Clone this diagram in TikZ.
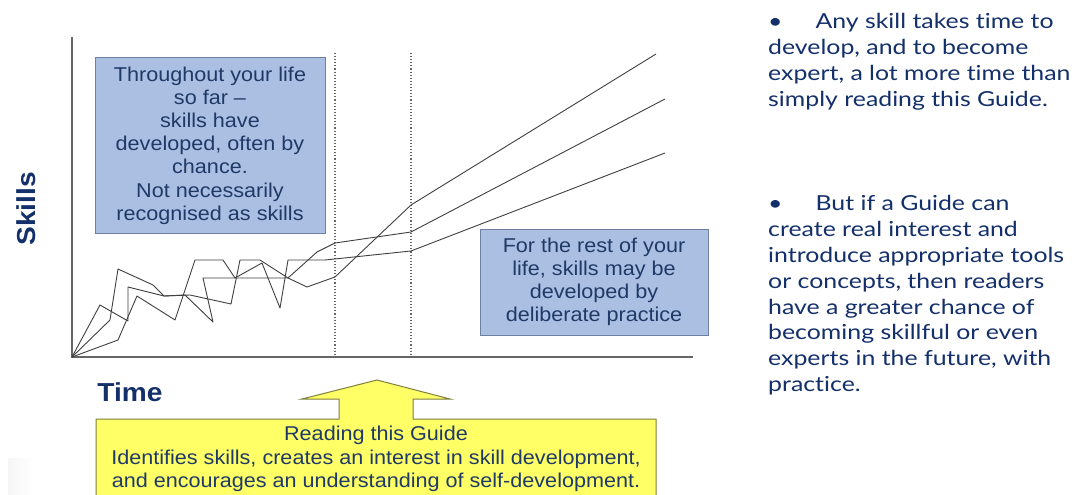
\documentclass[tikz,border=0pt]{standalone}
\usepackage{fontspec}
\setmainfont[FakeStretch=1.08]{Liberation Sans}
\newfontfamily\notefont[FakeStretch=1.2, Ligatures=NoCommon]{Lato}
\definecolor{boxfill}{HTML}{ABBFE3}
\definecolor{boxedge}{HTML}{6F7F9F}
\definecolor{boxtext}{HTML}{1F3A66}
\definecolor{navy}{HTML}{14306B}
\definecolor{guidefill}{HTML}{FFFF66}
\definecolor{guideedge}{HTML}{7F7F3F}
\tikzset{
	lifebox/.style={draw=boxedge, fill=boxfill, line width=1pt, text=boxtext, align=center,
		inner sep=0pt, font=\fontsize{20}{23.2}\selectfont},
	axislabel/.style={text=navy, font=\bfseries\fontsize{26}{30}\selectfont},
	skillline/.style={draw=black!75, line width=0.9pt, line join=round},
	notes/.style={text=navy, align=left, anchor=north west, inner sep=0pt,
		font=\notefont\fontsize{20.7}{25.9}\selectfont}
}
\begin{document}
\begin{tikzpicture}[x=1pt, y=-1pt]
	\useasboundingbox (0,0) rectangle (1085,495);
	\clip (0,0) rectangle (1085,495);
	\fill[white] (0,0) rectangle (1085,495);
	\shade[left color=blue!4!gray!7, right color=white] (8,458) rectangle (34,495);

	%axes
	\coordinate (origin) at (72,357);
	\draw[black!60, line width=1.2pt] (72,37) -- (origin) -- (693,357);
	\node[axislabel, rotate=90] (skills) at (26,209) {Skills};
	\node[axislabel] (time) at (130,392) {Time};

	\foreach \x in {335, 411}{
		\draw[dotted, black!60, line width=1.1pt] (\x,53) -- (\x,357);
	}

	%skills over time
	\draw[skillline] (origin) -- (118,340) -- (137,296) -- (175,320) -- (195,260) -- (223,260)
		-- (235,278) -- (288,278) -- (307,287) -- (335,277) -- (411,205) -- (656,54);
	\draw[skillline] (origin) -- (110,320) -- (118,269) -- (153,285) -- (164,296) -- (190,295)
		-- (231,304) -- (240,260) -- (260,260) -- (288,278) -- (317,252) -- (335,243)
		-- (411,232) -- (665,99);
	\draw[skillline] (origin) -- (100,305) -- (128,321) -- (128,287) -- (164,296) -- (185,295)
		-- (213,322) -- (203,278) -- (235,278) -- (262,263) -- (280,308) -- (288,260)
		-- (325,260) -- (411,251) -- (665,153);

	%boxes
	\node[lifebox, minimum width=230pt, minimum height=175pt] (sofar) at (210,145.5)
		{Throughout your life\\so far --\\skills have\\developed, often by\\chance.\\Not necessarily\\recognised as skills};
	\node[lifebox, minimum width=228pt, minimum height=106pt] (rest) at (594,282)
		{For the rest of your\\life, skills may be\\developed by\\deliberate practice};

	%the guide
	\draw[fill=guidefill, draw=guideedge, line width=1pt, line join=miter]
		(96,419) -- (339,419) -- (339,399) -- (302,399) -- (377,380) -- (450,399) -- (413,399)
		-- (413,419) -- (656,419) -- (656,505) -- (96,505) -- cycle;
	\node[text=boxtext, align=center, font=\fontsize{20}{23.5}\selectfont] (guide) at (376,459)
		{Reading this Guide\\Identifies skills, creates an interest in skill development,\\and encourages an understanding of self-development.};

	%notes on the right
	\node[notes] (note1) at (768,13)
		{•\hspace{33pt}Any skill takes time to\\develop, and to become\\expert, a lot more time than\\simply reading this Guide.};
	\node[notes] (note2) at (768,195)
		{•\hspace{33pt}But if a Guide can\\create real interest and\\introduce appropriate tools\\or concepts, then readers\\have a greater chance of\\becoming skillful or even\\experts in the future, with\\practice.};
\end{tikzpicture}
\end{document}
